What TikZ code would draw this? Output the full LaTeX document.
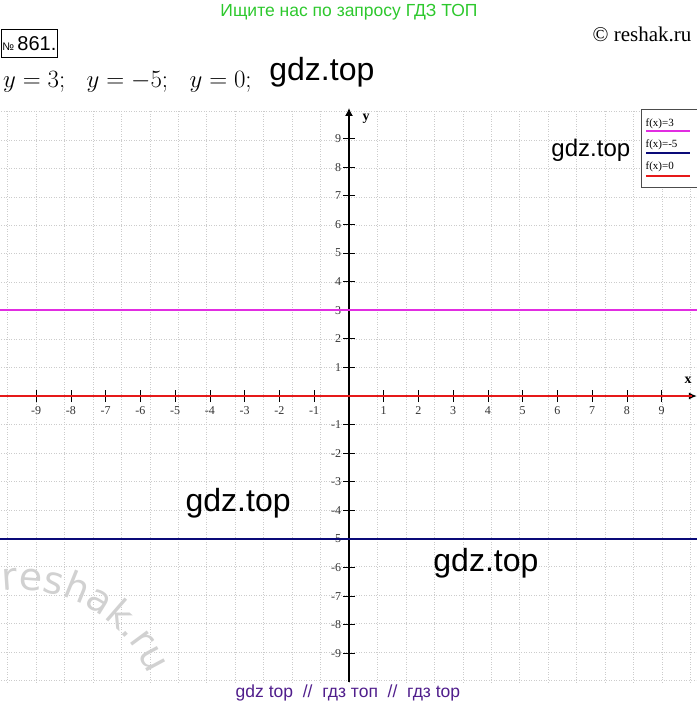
\documentclass[tikz,border=0pt]{standalone}
\usepackage{fontspec}
\setmainfont{Liberation Serif}
\newfontfamily\gdzsans{Liberation Sans}
\newfontfamily\marksans{DejaVu Sans}
\usetikzlibrary{arrows.meta,decorations.text}
\definecolor{lineone}{RGB}{225,45,225}
\definecolor{linetwo}{RGB}{10,10,120}
\definecolor{linethree}{RGB}{230,25,25}
\definecolor{headgreen}{RGB}{45,200,45}
\definecolor{footpurple}{RGB}{80,30,140}

\begin{document}
\begin{tikzpicture}[x=34.75pt, y=28.6pt]
\useasboundingbox (-10.043,-10.944) rectangle (10.014,13.846);
% grid and axes
\draw[gray!40, dotted, line width=0.5pt] (-10,-10) grid (10,10);
\draw[line width=1.2pt, -{Latex[length=8pt,width=7pt]}] (-10.05,0) -- (10.01,0);
\draw[line width=1.2pt, -{Latex[length=8pt,width=8pt]}] (0,-10) -- (0,10.07);
\foreach \i in {-9,...,-1,1,2,...,9} {
  \draw[line width=0.8pt] (\i,-0.21) -- (\i,0.21);
  \draw[line width=0.8pt] (-0.17,\i) -- (0.17,\i);
  \node[black!80, font=\fontsize{12}{13}\selectfont] (xl\i) at (\i,-0.5) {\i};
  \node[black!80, font=\fontsize{12}{13}\selectfont, anchor=east, inner sep=0pt] (yl\i) at (-0.22,\i) {\i};
}
\node[font=\bfseries\fontsize{14}{15}\selectfont] (xname) at (9.76,0.56) {x};
\node[font=\bfseries\fontsize{14}{15}\selectfont] (yname) at (0.49,9.69) {y};
% the three lines
\draw[line width=2.4pt, lineone] (-10.05,3) -- (10.05,3);
\draw[line width=2.4pt, linetwo] (-10.05,-5) -- (10.05,-5);
\draw[line width=2.4pt, linethree] (-10.05,0) -- (9.86,0);
% legend
\draw[black!70, line width=0.6pt, fill=white] (8.40,7.31) rectangle (10.03,10.03);
\node[anchor=west, inner sep=0pt, font=\fontsize{11}{12}\selectfont] (leg1) at (8.53,9.53) {f(x)=3};
\draw[line width=1.6pt, lineone] (8.55,9.27) -- (9.81,9.27);
\node[anchor=west, inner sep=0pt, font=\fontsize{11}{12}\selectfont] (leg2) at (8.53,8.80) {f(x)=-5};
\draw[line width=1.6pt, linetwo] (8.55,8.50) -- (9.81,8.50);
\node[anchor=west, inner sep=0pt, font=\fontsize{11}{12}\selectfont] (leg3) at (8.53,8.00) {f(x)=0};
\draw[line width=1.6pt, linethree] (8.55,7.69) -- (9.81,7.69);
% texts
\node[headgreen, font=\gdzsans\fontsize{17.5}{19}\selectfont] (head) at (0,13.43) {Ищите нас по запросу ГДЗ ТОП};
\node[draw, line width=0.9pt, minimum width=52pt, minimum height=28pt, inner sep=1pt, font=\gdzsans\fontsize{20}{22}\selectfont] (num) at (-9.20,12.31) {{\fontsize{11}{12}\selectfont №}\,861.};
\node[font=\fontsize{21}{23}\selectfont] (copy) at (8.43,12.66) {© reshak.ru};
\node[anchor=base west, inner sep=0pt, font=\fontsize{23}{25}\selectfont] (task) at (-9.957,10.80) {$y=3;\hspace{0.75em}y=-5;\hspace{0.75em}y=0;$};
\node[font=\gdzsans\fontsize{32}{34}\selectfont] (wm1) at (-0.78,11.33) {gdz.top};
\node[font=\gdzsans\fontsize{24}{26}\selectfont] (wm2) at (6.96,8.60) {gdz.top};
\node[font=\gdzsans\fontsize{32}{34}\selectfont] (wm3) at (-3.19,-3.74) {gdz.top};
\node[font=\gdzsans\fontsize{32}{34}\selectfont] (wm4) at (3.94,-5.84) {gdz.top};
\node[footpurple, font=\gdzsans\fontsize{17.5}{19}\selectfont] (foot) at (-0.03,-10.38) {gdz top \ // \ гдз топ \ // \ гдз top};
% faint arc watermark
\path[decorate, decoration={text along path, text color=black!18,
  text={|\marksans\fontsize{38}{40}\selectfont|reshak.ru}}]
  ([shift={(-9.468,-11.678)}] 97:140pt) arc[start angle=97, end angle=10, radius=140pt];
\end{tikzpicture}
\end{document}
